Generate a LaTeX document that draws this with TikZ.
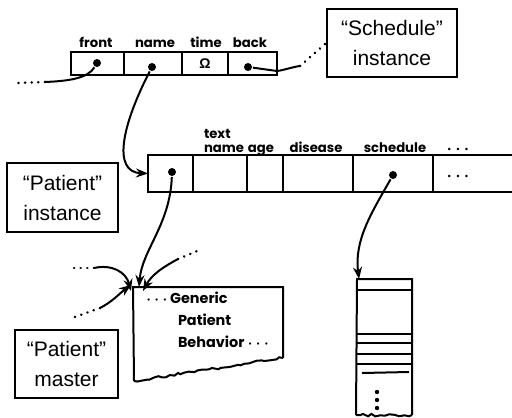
\documentclass[tikz,border=0pt]{standalone}
\usepackage{bm}
\usepackage{fontspec}
\setmainfont{Liberation Sans}
\newfontfamily\fieldfont{Poppins}
\usetikzlibrary{arrows, arrows.meta, positioning, decorations.pathmorphing}
\tikzset{
	cell/.style={draw, line width=1pt, inner sep=0pt, outer sep=0pt},
	dot/.style={circle, fill, inner sep=0pt, minimum size=4pt}
}
\tikzset{
	fieldtext/.style={font=\fieldfont\bfseries\fontsize{6.6}{8}\selectfont, inner sep=0pt, anchor=base},
	behavtext/.style={font=\fieldfont\bfseries\fontsize{7.2}{8}\selectfont, inner sep=0pt, anchor=base west},
	tagbox/.style={draw, thick, align=center, inner sep=0pt, font=\fontsize{10.5}{15}\selectfont},
	trail/.style={line width=1.3pt, dash pattern=on 0.1pt off 3.2pt, line cap=round}
}
\tikzset{
	torn/.style={decorate, decoration={random steps, segment length=2pt, amplitude=0.7pt}}
}
\newcommand{\more}{$\bm{\cdots}$}

\begin{document}
\begin{tikzpicture}[>={Stealth[length=6pt, width=4.5pt]}, x=0.5pt, y=-0.5pt, line width=1pt]
      \useasboundingbox (0,0) rectangle (512,417);
      % "Schedule" instance record
      \node[cell, minimum width=26.5pt, minimum height=11.5pt] (front) at (97.5,63.5) {};
      \node[cell, minimum width=29pt, minimum height=11.5pt, right=0pt of front] (name) {};
      \node[cell, minimum width=23pt, minimum height=11.5pt, right=0pt of name] (time) {\scriptsize\bfseries Ω};
      \node[cell, minimum width=24.5pt, minimum height=11.5pt, right=0pt of time] (back) {};
      \node[fieldtext] at (96,47) {front};
      \node[fieldtext] at (155,47) {name};
      \node[fieldtext] at (206,47) {time};
      \node[fieldtext] at (250,47) {back};
      \node[dot] (fdot) at (97,63) {};
      \node[dot] (ndot) at (152,67) {};
      \node[dot] (bdot) at (248,67) {};
      \node[tagbox, minimum width=65pt, minimum height=34pt] (schedtag) at (392,43) {“Schedule”\\instance};
      % links out of the schedule record
      \coordinate (fend) at (45,82);
      \draw (fdot) .. controls (88,78) and (70,81) .. (fend);
      \draw[trail] (fend) -- ++(-28,1);
      \coordinate (bend) at (300,66);
      \draw (bdot) -- (277,71) .. controls (285,70) and (292,67) .. (bend);
      \draw[trail] (bend) -- (schedtag.west);
      % "Patient" instance record
      \node[cell, minimum width=22.5pt, minimum height=18.5pt] (pid) at (170.5,173.5) {};
      \node[cell, minimum width=27pt, minimum height=18.5pt, right=0pt of pid] (pname) {};
      \node[cell, minimum width=18pt, minimum height=18.5pt, right=0pt of pname] (page) {};
      \node[cell, minimum width=35pt, minimum height=18.5pt, right=0pt of page] (pdis) {};
      \node[cell, minimum width=40pt, minimum height=18.5pt, right=0pt of pdis] (psched) {};
      \draw (psched.north east) -- (512,155);
      \draw (psched.south east) -- (512,192);
      \node at (458,177) {\footnotesize\more};
      \node[fieldtext, anchor=base west] at (203,138) {text};
      \node[fieldtext, anchor=base west] at (203,152) {name};
      \node[fieldtext] at (261,152) {age};
      \node[fieldtext] at (316,152) {disease};
      \node[fieldtext] at (395,152) {schedule};
      \node at (458,150) {\footnotesize\more};
      \node[dot] (pdot) at (172,172) {};
      \node[dot] (sdot) at (393,175) {};
      \node[tagbox, minimum width=55.5pt, minimum height=34.5pt] (pattag) at (62.5,197.5) {“Patient”\\instance};
      \draw[->] (ndot) .. controls (122,125) and (112,172) .. (pid.west);
      % "Patient" master, torn at the bottom
      \coordinate (gcorner) at (133,287);
      \draw (283,358) -- (283,287) -- (gcorner) -- (134,381);
      \draw[torn] (134,381) -- (283,358);
      \node[behavtext] (gen) at (145,303) {\more\,Generic};
      \node[behavtext] (pat) at (177,325) {Patient};
      \node[behavtext] (beh) at (177,347) {Behavior \more};
      \node[tagbox, minimum width=51.5pt, minimum height=34pt] (mastag) at (66.5,364) {“Patient”\\master};
      \draw[->] (pdot) .. controls (170,225) and (142,250) .. ([xshift=3pt]gcorner);
      \coordinate (ur) at (178,259);
      \draw[trail] (ur) -- ++(24,-10);
      \draw[->] (ur) .. controls (165,266) and (152,274) .. ([xshift=5pt,yshift=-2pt]gcorner);
      \coordinate (ul) at (94,268);
      \draw[trail] (ul) -- ++(-26,0);
      \draw[->] (ul) .. controls (112,264) and (126,272) .. ([xshift=-1pt,yshift=-2pt]gcorner);
      \coordinate (ll) at (100,308);
      \draw[trail] (ll) -- ++(-28,10);
      \draw[->] (ll) .. controls (112,302) and (120,293) .. ([xshift=-1pt,yshift=1pt]gcorner);
      % schedule stack
      \coordinate (stop) at (357,279);
      \draw (356,415) -- (stop) -- (412,279) -- (412,415);
      \draw[torn] (356,415) -- (412,415);
      \foreach \y in {290,334,343,354,364}
        \draw (356,\y) -- (412,\y);
      \draw (362,373) -- (409,372);
      \foreach \y in {392,400,408}
        \fill (377,\y) circle (1.1pt);
      \draw[->] (sdot) .. controls (372,212) and (354,240) .. ([xshift=1pt]stop);
\end{tikzpicture}
\end{document}
